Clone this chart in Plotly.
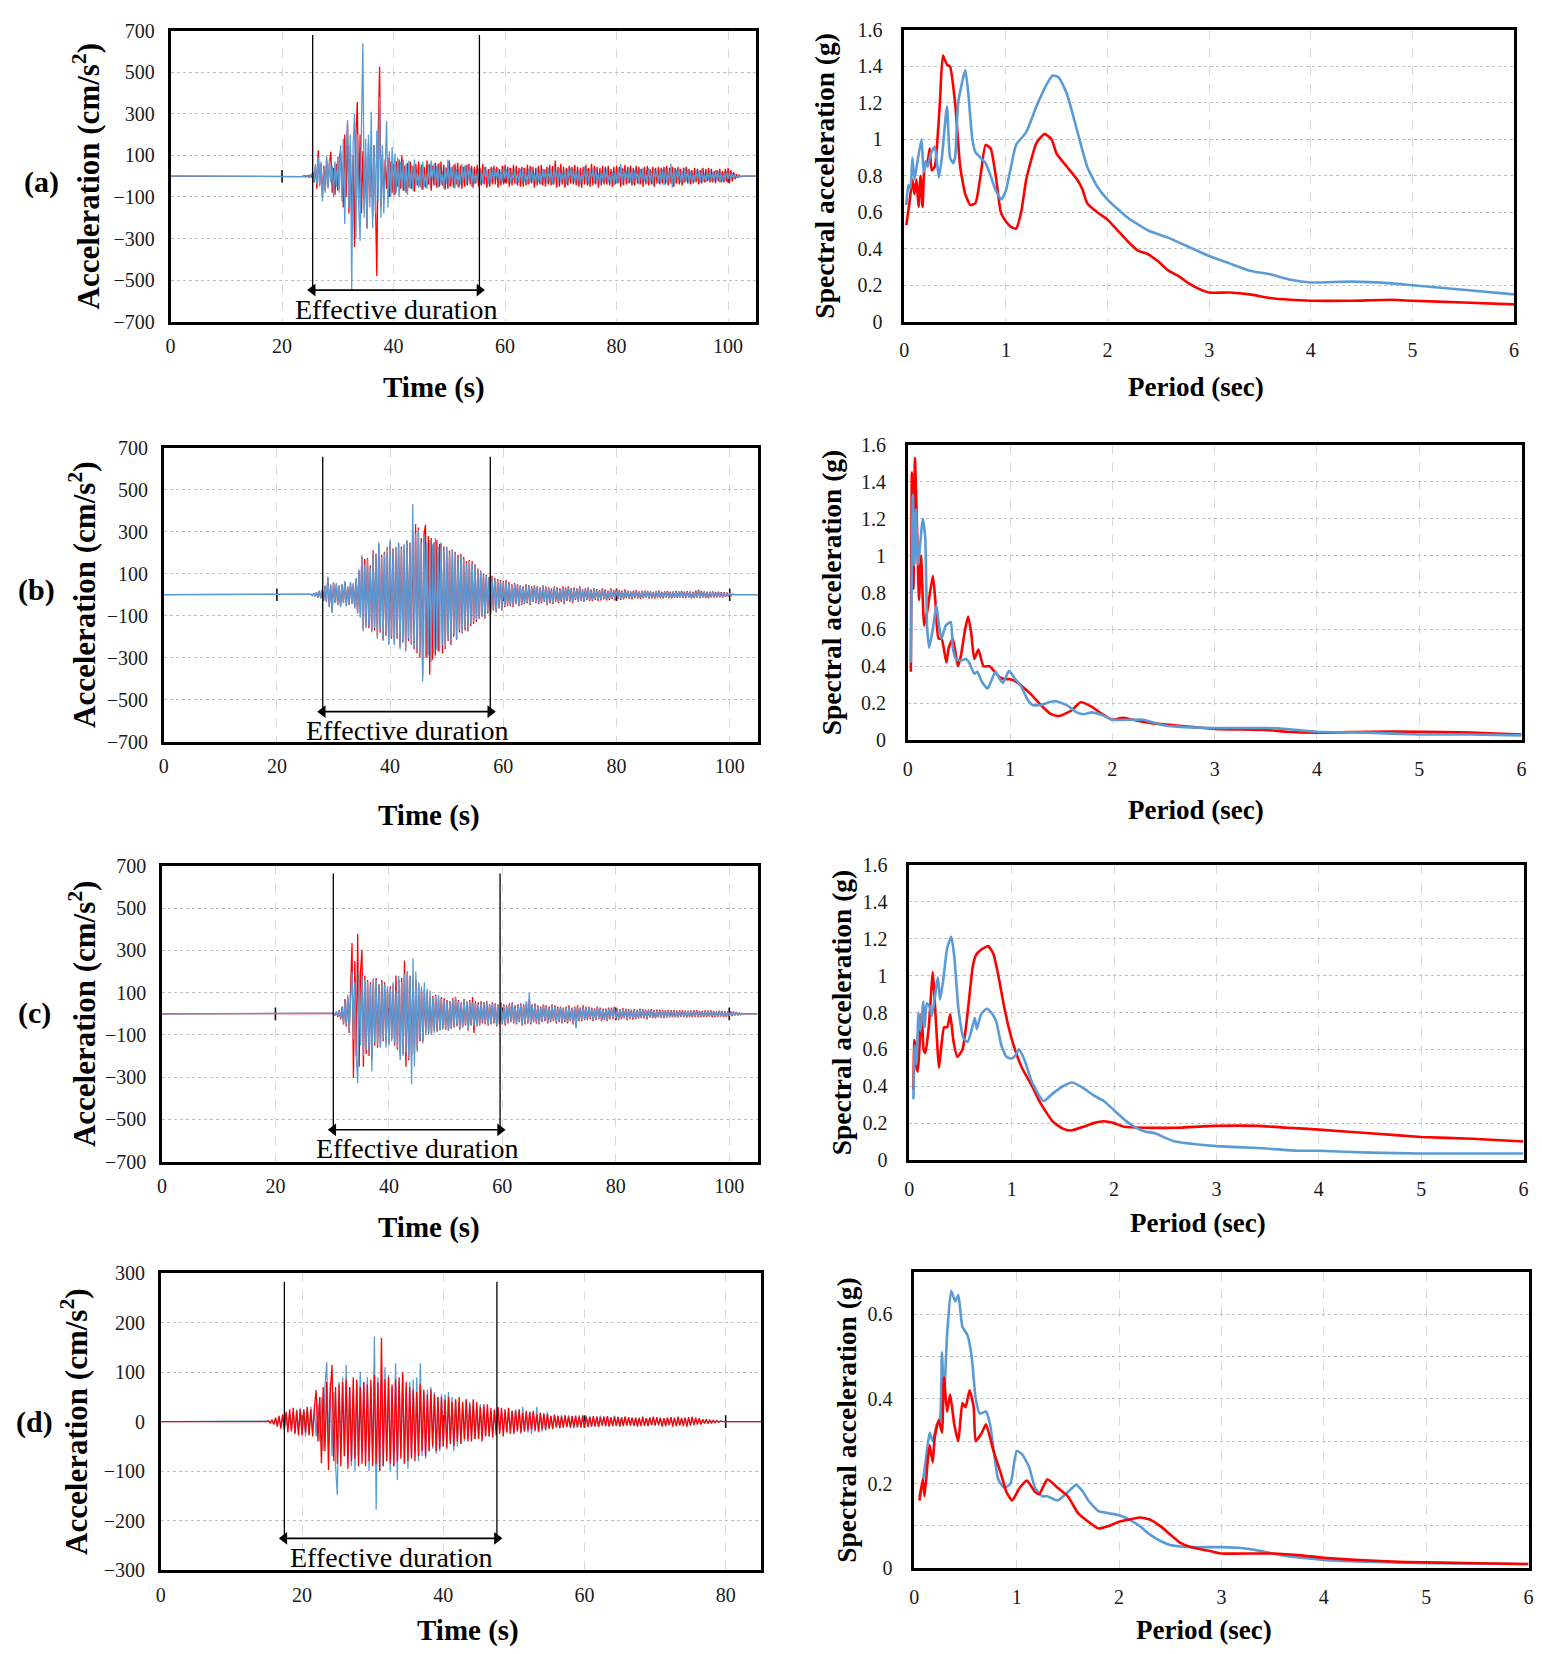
import plotly.graph_objects as go

# The page body has an 8 px margin in the browser; the figure is sized and placed to fit the window.
PAGE_W, PAGE_H = 1542, 1654
OFF = 8
W, H = PAGE_W - 2 * OFF, PAGE_H - 2 * OFF
FONT = "Liberation Serif, Times New Roman, serif"
RED = "#FF0000"
BLUE = "#5B9BD5"

PANEL_LABELS = ["(a)", "(b)", "(c)", "(d)"]

# ---------------- time histories (cm/s^2), sampled every DT seconds from onset ----------------
DT = 0.25
ONSET = [23.0, 26.0, 30.0, 15.0]
T_END = [105, 105, 105, 85]

A_BLUE = [0, 1, -2, 2, -3, 3, -2, 4, -5, 6, 15, -25, 60, -40, 90, -50, 70, -120, 40, -80,
          100, -60, 80, -30, 50, -100, 70, -50, 95, -80, 150, -120, 180, -230, 120, 270, -150, 200, -545, 150,
          300, -300, 200, -150, -310, 250, 640, -200, 180, -250, 200, -150, 310, -250, 150, -180, 220, -120, 380, -200,
          150, -180, 100, 266, -150, 120, -100, 140, -90, 110, -80, 90, -100, 70, -60, 80, -70, 60, -90, 75,
          -60, 50, -70, 80, -45, 20, -55, 40, -65, 70, -50, 15, -60, 55, -40, 75, -10, 60, -45, 50,
          -55, 65, -40, 10, -60, 45, -35, 80, -50, 40, -15, 55, -60, 35, -50, 20, -40, 60, -35, 50,
          -45, 55, -10, 40, -50, 35, -40, 15, -25, 35, -40, 30, -35, 45, -10, 25, -40, 35, -30, 40,
          -25, 35, -10, 40, -35, 25, -30, 45, -15, 35, -25, 40, -35, 10, -20, 35, -40, 25, -30, 35,
          -35, 40, -25, 10, -40, 35, -30, 45, -25, 15, -35, 40, -30, 25, -40, 35, -10, 30, -35, 40,
          -30, 35, -40, 45, -10, 25, -35, 40, -30, 15, -25, 30, -40, 35, -15, 40, -25, 35, -30, 25,
          -35, 30, -40, 15, -25, 45, -30, 35, -40, 25, -10, 35, -35, 40, -25, 15, -35, 25, -30, 40,
          -25, 35, -30, 10, -35, 25, -45, 30, -35, 40, -30, 60, -40, 35, -15, 25, -35, 40, -30, 35,
          -40, 30, -15, 25, -40, 35, -30, 40, -25, 10, -35, 40, -30, 25, -40, 35, -10, 25, -35, 30,
          -30, 35, -45, 40, -30, 15, -25, 60, -55, 40, -35, 30, -10, 35, -30, 25, -35, 40, -25, 30,
          -35, 25, -30, 10, -25, 30, -20, 25, -30, 35, -25, 10, -30, 25, -20, 30, -25, 20, -25, 30,
          -20, 25, -30, 20, -25, 15, -20, 25, -15, 20, -18, 15, -12, 10, -8, 5, -3, 2, 0, 0]
A_RED = [0, -1, 1, -2, 2, -3, 3, -4, 5, -6, 20, -30, 50, -60, 125, -40, 60, -100, 50, -70,
         80, -50, 60, 117, -80, 40, -90, 60, -70, 90, 120, -60, -150, 200, -100, 250, -180, 150, -200, 100,
         -340, 200, 357, -150, 200, -180, 120, -160, 100, -252, 160, -100, 120, -200, 150, -120, -480, 200, 526, -150,
         100, -120, 80, -60, 90, -100, 70, -80, 60, -90, 70, -50, 80, -60, 101, -70, 50, -80, 65, -55,
         70, -60, 50, -75, 60, -45, 70, -50, 55, -65, 45, -55, 75, -40, 60, -70, 50, -45, 65, -55,
         60, -50, 70, -45, 55, -65, 40, -60, 75, -50, 45, -55, 60, -40, 65, -55, 50, -60, 45, -50,
         55, -45, 60, -40, 50, -55, 45, -35, 55, -50, 40, -45, 60, -40, 45, -55, 35, -50, 45, -40,
         50, -40, 45, -55, 35, -45, 50, -40, 55, -35, 45, -50, 40, -45, 55, -35, 50, -45, 40, -50,
         45, -50, 40, -45, 55, -40, 50, -35, 45, -55, 40, -45, 50, -40, 55, -45, 35, -50, 45, -40,
         55, -45, 50, -40, 75, -55, 45, -50, 60, -40, 45, -55, 40, -45, 50, -35, 45, -40, 55, -45,
         45, -50, 40, -55, 45, -40, 55, -45, 40, -50, 60, -45, 50, -40, 45, -55, 40, -45, 50, -40,
         45, -40, 50, -45, 35, -50, 45, -40, 50, -35, 45, -50, 40, -45, 55, -40, 45, -35, 50, -45,
         40, -45, 50, -35, 45, -40, 35, -50, 45, -40, 50, -45, 35, -40, 45, -50, 40, -35, 45, -40,
         40, -35, 45, -40, 50, -45, 40, -35, 45, -50, 40, -35, 45, -40, 35, -45, 40, -30, 45, -35,
         35, -40, 30, -35, 40, -30, 35, -40, 30, -35, 40, -30, 35, -25, 40, -30, 35, -30, 25, -35,
         30, -25, 35, -30, 25, -30, 35, -25, 40, -35, 30, -25, 20, -15, 10, -8, 5, -3, 0, 0]

B_BLUE = [3, -5, 8, -10, 12, -15, 20, -18, 25, -30, 45, -35, 87, -60, 50, -87, 60, -40, 55, -50,
          45, -60, 50, -40, 65, -55, 40, -50, 60, -45, 55, -65, 80, -90, 120, -110, 190, -175, 140, -160,
          170, -150, 130, -180, 200, -160, 190, -210, 250, -170, 180, -220, 200, -190, 230, -240, 262, -200, 210, -240,
          230, -200, 250, -260, 220, -230, 240, -270, 260, -210, 250, -240, 432, -250, 290, -270, 310, -280, 250, -413,
          280, -300, 250, -290, 260, -320, 240, -280, 270, -260, 230, -270, 250, -240, 220, -250, 230, -210, 200, -230,
          210, -190, 200, -210, 180, -170, 190, -180, 170, -160, 150, -170, 160, -140, 150, -130, 140, -120, 120, -110,
          110, -100, 95, -110, 90, -85, 80, -90, 85, -70, 75, -80, 70, -60, 65, -70, 60, -55, 65, -50,
          55, -50, 45, -55, 50, -40, 45, -50, 40, -45, 35, -40, 45, -35, 40, -45, 35, -30, 40, -35,
          35, -40, 30, -35, 40, -30, 35, -45, 30, -35, 25, -40, 35, -30, 30, -35, 25, -30, 35, -40,
          30, -25, 35, -30, 25, -35, 30, -20, 25, -30, 35, -25, 20, -30, 25, -20, 30, -25, 20, -25,
          25, -20, 22, -25, 18, -22, 25, -18, 20, -22, 15, -20, 25, -15, 18, -22, 20, -15, 18, -20,
          15, -18, 20, -12, 16, -15, 12, -18, 15, -12, 18, -14, 12, -16, 14, -12, 16, -10, 14, -15,
          12, -14, 10, -15, 13, -10, 15, -12, 10, -14, 12, -10, 14, -12, 10, -13, 12, -10, 14, -11,
          12, -10, 14, -12, 10, -11, 13, -10, 12, -14, 10, -12, 15, -10, 20, -12, 14, -10, 12, -11,
          10, -12, 11, -9, 12, -10, 9, -8, 11, -9, 8, -10, 9, -7, 8, -6, 5, -4, 2, 0]
B_RED = [2, -4, 7, -9, 11, -14, 18, -16, 22, -28, 40, -32, 80, -55, 45, -80, 55, -38, 50, -48,
         42, -55, 48, -38, 60, -52, 38, -48, 55, -42, 50, -60, 75, -85, 115, -105, 180, -165, 170, -150,
         175, -160, 140, -175, 210, -170, 195, -200, 240, -180, 190, -215, 205, -195, 225, -235, 250, -210, 220, -230,
         225, -210, 245, -250, 230, -225, 235, -260, 255, -220, 245, -235, 300, -260, 335, -280, 320, -300, 270, -390,
         290, 333, -300, 280, -381, 270, -310, 250, -290, 260, -270, 240, 240, -280, 230, -260, 225, -220, 210, -240,
         215, -200, 205, -215, 190, -180, 195, -185, 180, -170, 160, -175, 165, -150, 160, -140, 145, -130, 125, -115,
         115, -105, 100, -115, 95, -90, 85, -95, 90, -75, 80, -85, 75, -65, 70, -75, 65, -60, 70, -55,
         60, -55, 50, -60, 55, -45, 50, -55, 45, -50, 40, -45, 50, -40, 45, -50, 40, -35, 45, -40,
         40, -45, 35, -40, 45, -35, 40, -50, 35, -40, 30, -45, 40, -35, 35, -40, 30, -35, 40, -45,
         35, -30, 40, -35, 30, -40, 35, -25, 30, -35, 40, -30, 25, -35, 30, -25, 35, -30, 25, -30,
         30, -25, 27, -30, 22, -27, 30, -22, 25, -27, 20, -25, 30, -20, 22, -27, 25, -20, 22, -25,
         20, -22, 25, -16, 20, -19, 16, -22, 19, -16, 22, -18, 16, -20, 18, -16, 20, -14, 18, -19,
         16, -18, 14, -19, 17, -14, 19, -16, 14, -18, 16, -14, 18, -16, 14, -17, 16, -14, 18, -15,
         16, -14, 18, -16, 14, -15, 17, -14, 16, -18, 14, -16, 19, -14, 24, -16, 18, -14, 16, -15,
         14, -16, 15, -13, 16, -14, 13, -12, 15, -13, 12, -14, 12, -10, 11, -9, 7, -5, 3, 0]

C_BLUE = [0, 3, -5, 8, -12, 15, -20, 30, -45, 60, -50, 90, -80, 95, 200, -120, 150, -200, -328, 200,
          -150, 180, -200, 160, -170, 150, -190, 140, -273, 170, -140, 160, -150, 130, -160, 150, -120, 140, -160, 130,
          -150, 120, -130, 150, -140, 110, -160, 180, -220, 150, -200, 190, -180, 200, -210, 180, -333, 263, -250, 200,
          -180, 150, -120, 130, -140, 150, -100, 120, -90, 110, -100, 80, -90, 85, -70, 90, -80, 70, -75, 65,
          -70, 60, -80, 55, -65, 70, -60, 75, -55, 60, -70, 50, -60, 65, -50, 55, -75, 60, -50, 55,
          -60, 50, -55, 45, -50, 55, -40, 50, -45, 55, -50, 40, -45, 50, -40, 45, -55, 40, -45, 50,
          -45, 40, -50, 35, -40, 45, -35, 50, -40, 35, -45, 40, -35, 45, -50, 40, -45, 60, -40, 98,
          -45, 40, -35, 45, -40, 35, -45, 30, -35, 40, -30, 35, -40, 30, -35, 40, -30, 35, -40, 30,
          -35, 30, -40, 25, -35, 30, -40, 35, -30, 25, -45, 30, -68, 35, -30, 25, -30, 35, -25, 30,
          -25, 30, -20, 25, -30, 20, -25, 30, -20, 25, -30, 20, -25, 20, -30, 25, -20, 25, -20, 30,
          -22, 20, -25, 18, -20, 22, -18, 20, -25, 18, -20, 15, -22, 18, -20, 16, -18, 20, -15, 18,
          -18, 15, -20, 16, -14, 18, -16, 14, -18, 15, -13, 16, -15, 14, -16, 12, -14, 15, -13, 14,
          -12, 14, -13, 11, -14, 12, -10, 13, -12, 11, -14, 10, -12, 13, -11, 12, -10, 14, -12, 10,
          -11, 10, -12, 13, -10, 11, -9, 12, -11, 10, -12, 8, -10, 11, -9, 10, -12, 9, -10, 8,
          -8, 9, -7, 8, -6, 6, -5, 4, -3, 2, -1, 0]
C_RED = [0, 2, -6, 10, -15, 18, -25, 35, -50, 70, -60, 80, -90, 100, 335, -304, 250, -200, 379, -250,
         200, 303, -250, 180, -190, 160, -200, 150, -220, 160, -150, 170, -160, 140, -150, 160, -130, 150, -140, 120,
         -140, 130, -120, 140, -150, 181, -170, 160, -200, 170, -190, 252, -250, 200, -220, 180, -200, 170, -190, 160,
         -170, 140, -130, 120, -130, 110, -90, 100, -95, 80, -90, 85, -80, 90, -85, 70, -75, 80, -70, 75,
         -75, 65, -80, 60, -70, 75, -65, 80, -60, 65, -75, 55, -65, 70, -55, 60, -80, 65, -55, 80,
         -90, 60, -60, 55, -55, 60, -45, 55, -50, 60, -55, 45, -50, 55, -45, 50, -60, 45, -50, 55,
         -50, 45, -55, 40, -45, 50, -40, 55, -45, 40, -50, 45, -40, 50, -55, 45, -50, 55, -45, 70,
         -50, 45, -40, 50, -45, 40, -50, 35, -40, 45, -35, 40, -45, 35, -40, 45, -35, 40, -45, 35,
         -40, 35, -45, 30, -40, 35, -45, 40, -35, 30, -50, 35, -60, 40, -35, 30, -35, 40, -30, 35,
         -30, 35, -25, 30, -35, 25, -30, 35, -25, 30, -35, 25, -30, 25, -35, 30, -25, 30, -25, 35,
         -27, 25, -30, 22, -25, 27, -22, 25, -30, 22, -25, 20, -27, 22, -25, 20, -22, 25, -20, 22,
         -22, 20, -25, 20, -18, 22, -20, 18, -22, 20, -17, 20, -19, 18, -20, 16, -18, 19, -17, 18,
         -16, 18, -17, 15, -18, 16, -14, 17, -16, 15, -18, 14, -16, 17, -15, 16, -14, 18, -16, 14,
         -15, 14, -16, 17, -14, 15, -13, 16, -15, 14, -16, 12, -14, 15, -13, 14, -16, 13, -14, 12,
         -12, 13, -10, 11, -8, 8, -6, 5, -4, 3, -1, 0]

D_BLUE = [0, 1, -2, 3, -4, 5, -6, 8, -10, 12, -10, 15, -12, 18, -15, 20, -22, 25, -20, 28,
          -25, 22, -30, 28, -25, 30, -20, 25, -30, 35, -40, 50, -60, 70, 120, -50, 80, -70, 60, -90,
          -148, 80, -60, 90, -70, 115, -80, 70, -90, 60, -100, 80, -70, 101, -60, 80, -70, 90, -100, 70,
          -80, 172, -178, 90, -100, 85, -90, 110, -80, 95, -100, 70, -90, 118, -118, 80, -70, 95, -85, 70,
          -95, 80, -70, 85, -60, 90, -80, 118, -70, 60, -75, 65, -60, 70, -55, 60, -65, 50, -60, 55,
          -50, 55, -45, 60, -40, 50, -60, 45, -50, 40, -45, 35, -40, 45, -35, 40, -30, 40, -35, 30,
          -30, 35, -25, 30, -28, 25, -30, 20, -25, 22, -20, 25, -18, 22, -20, 18, -22, 20, -18, 22,
          -20, 25, -18, 22, -25, 30, -20, 18, -22, 20, -25, 18, -20, 30, -22, 18, -20, 15, -18, 20,
          -15, 12, -14, 15, -12, 10, -13, 14, -11, 12, -10, 13, -12, 11, -14, 10, -12, 13, -11, 14,
          -10, 12, -9, 11, -10, 8, -11, 10, -9, 12, -8, 10, -9, 11, -10, 9, -8, 12, -9, 10,
          -8, 9, -7, 10, -8, 7, -9, 8, -7, 9, -8, 6, -7, 8, -9, 7, -6, 8, -7, 6,
          -7, 8, -6, 7, -8, 6, -7, 8, -6, 7, -5, 6, -7, 5, -6, 7, -5, 6, -6, 5,
          -6, 5, -5, 6, -4, 5, -5, 4, -3, 4, -3, 3, -2, 3, -2, 2, -1, 1, 0, 0,
          0, 0, 0, 0]
D_RED = [0, 2, -3, 4, -6, 8, -10, 12, -14, 15, -18, 20, -22, 25, -20, 28, -25, 22, -28, 25,
         -28, 25, -22, 30, -28, 25, -30, 28, 64, -40, 50, -84, 70, -60, 80, -98, 60, 115, -80, 70,
         -85, 75, -90, 80, -70, 85, -95, 70, -80, 90, -75, 85, -90, 70, -85, 80, -90, 75, -80, 85,
         -90, 95, -85, 80, -100, 169, -90, 85, -80, 90, -85, 75, -90, 85, -80, 90, -75, 100, -85, 80,
         -80, 70, -75, 65, -80, 60, -70, 75, -60, 65, -70, 55, -60, 65, -50, 55, -60, 50, -55, 50,
         -50, 45, -55, 50, -45, 40, -50, 45, -40, 50, -45, 40, -35, 45, -40, 35, -40, 45, -35, 40,
         -35, 30, -40, 35, -30, 35, -30, 28, -32, 25, -28, 30, -25, 28, -30, 25, -22, 28, -25, 22,
         -25, 22, -20, 25, -22, 18, -20, 22, -18, 20, -16, 22, -18, 15, -20, 18, -15, 17, -16, 15,
         -14, 12, -15, 13, -11, 12, -13, 10, -12, 13, -11, 10, -12, 11, -10, 12, -11, 10, -12, 11,
         -12, 10, -11, 9, -10, 11, -9, 10, -11, 9, -8, 10, -9, 11, -10, 8, -9, 10, -8, 9,
         -10, 8, -9, 10, -8, 9, -7, 8, -9, 7, -10, 8, -9, 10, -8, 7, -9, 8, -7, 10,
         -8, 9, -7, 8, -10, 7, -9, 8, -7, 9, -10, 8, -9, 10, -8, 7, -9, 8, -10, 9,
         -8, 10, -7, 8, -6, 7, -6, 5, -4, 5, -4, 3, -3, 2, -2, 2, -1, 1, 0, 0,
         0, 0, 0, 0]

# effective duration (s) and the extent of its marker lines (cm/s^2)
EFF_START = [25.5, 28.1, 30.2, 17.5]
EFF_END = [55.4, 57.7, 59.6, 47.6]
EFF_TOP = [679, 657, 665, 283]
EFF_BOT = [-548, -557, -549, -236]

# ---------------- response spectra: (period s, Sa g) ----------------
SA_A_RED = [(0.02, 0.53), (0.05, 0.65), (0.08, 0.78), (0.10, 0.70), (0.12, 0.78), (0.14, 0.63),
            (0.16, 0.80), (0.18, 0.63), (0.20, 0.85), (0.23, 0.88), (0.25, 0.95), (0.27, 0.83),
            (0.30, 0.85), (0.32, 0.95), (0.35, 1.20), (0.38, 1.46), (0.42, 1.41), (0.45, 1.40),
            (0.50, 1.20), (0.55, 0.85), (0.60, 0.70), (0.65, 0.64), (0.70, 0.65), (0.75, 0.80),
            (0.80, 0.97), (0.85, 0.95), (0.90, 0.80), (0.95, 0.60), (1.00, 0.55), (1.05, 0.52),
            (1.10, 0.51), (1.15, 0.60), (1.20, 0.78), (1.30, 0.98), (1.38, 1.03), (1.45, 1.00),
            (1.50, 0.92), (1.60, 0.85), (1.70, 0.78), (1.75, 0.73), (1.80, 0.65), (1.90, 0.60),
            (2.00, 0.56), (2.10, 0.50), (2.20, 0.44), (2.30, 0.39), (2.40, 0.37), (2.50, 0.33),
            (2.60, 0.28), (2.70, 0.25), (2.80, 0.21), (2.90, 0.18), (3.00, 0.16), (3.20, 0.16),
            (3.40, 0.15), (3.60, 0.13), (3.80, 0.12), (4.00, 0.115), (4.40, 0.115), (4.80, 0.12),
            (5.00, 0.115), (5.50, 0.105), (6.00, 0.095)]
SA_A_BLUE = [(0.02, 0.64), (0.04, 0.75), (0.06, 0.73), (0.08, 0.90), (0.10, 0.78), (0.13, 0.88),
             (0.17, 1.00), (0.19, 0.82), (0.21, 0.88), (0.23, 0.85), (0.26, 0.92), (0.30, 0.96),
             (0.34, 0.79), (0.37, 0.90), (0.42, 1.18), (0.45, 0.90), (0.48, 0.87), (0.50, 0.90),
             (0.53, 1.20), (0.60, 1.38), (0.63, 1.25), (0.67, 1.00), (0.70, 0.93), (0.75, 0.90),
             (0.80, 0.87), (0.85, 0.80), (0.90, 0.72), (0.955, 0.67), (1.00, 0.72), (1.05, 0.85),
             (1.10, 0.97), (1.20, 1.04), (1.30, 1.18), (1.40, 1.30), (1.46, 1.35), (1.52, 1.34),
             (1.60, 1.25), (1.70, 1.05), (1.80, 0.85), (1.90, 0.74), (2.00, 0.67), (2.20, 0.57),
             (2.40, 0.50), (2.60, 0.46), (2.80, 0.41), (3.00, 0.36), (3.20, 0.32), (3.40, 0.28),
             (3.60, 0.26), (3.80, 0.23), (4.00, 0.215), (4.40, 0.22), (4.80, 0.21), (5.00, 0.20),
             (5.50, 0.175), (6.00, 0.15)]
SA_B_RED = [(0.03, 0.37), (0.04, 1.45), (0.055, 0.82), (0.07, 1.53), (0.09, 1.15), (0.11, 0.76),
            (0.13, 1.00), (0.16, 0.62), (0.19, 0.70), (0.245, 0.89), (0.27, 0.75), (0.30, 0.55),
            (0.33, 0.55), (0.377, 0.42), (0.40, 0.50), (0.44, 0.55), (0.49, 0.40), (0.52, 0.46),
            (0.56, 0.60), (0.59, 0.67), (0.62, 0.58), (0.65, 0.44), (0.69, 0.49), (0.74, 0.40),
            (0.80, 0.40), (0.85, 0.37), (0.90, 0.34), (0.95, 0.33), (1.00, 0.33), (1.05, 0.32),
            (1.10, 0.30), (1.20, 0.25), (1.30, 0.19), (1.40, 0.14), (1.48, 0.13), (1.60, 0.16),
            (1.69, 0.205), (1.80, 0.18), (1.90, 0.14), (2.00, 0.11), (2.10, 0.12), (2.20, 0.11),
            (2.40, 0.09), (2.60, 0.08), (2.80, 0.07), (3.00, 0.06), (3.50, 0.055), (3.70, 0.045),
            (4.00, 0.04), (4.50, 0.045), (5.00, 0.045), (5.50, 0.04), (6.00, 0.03)]
SA_B_BLUE = [(0.03, 0.42), (0.05, 1.33), (0.065, 0.95), (0.08, 1.25), (0.10, 0.95), (0.147, 1.20),
             (0.17, 1.10), (0.19, 0.60), (0.21, 0.50), (0.25, 0.62), (0.28, 0.73), (0.31, 0.60),
             (0.33, 0.55), (0.37, 0.62), (0.42, 0.64), (0.44, 0.50), (0.47, 0.44), (0.52, 0.43),
             (0.57, 0.44), (0.60, 0.42), (0.65, 0.36), (0.68, 0.37), (0.72, 0.32), (0.78, 0.28),
             (0.857, 0.37), (0.90, 0.33), (0.93, 0.31), (0.99, 0.375), (1.05, 0.33), (1.10, 0.30),
             (1.17, 0.22), (1.22, 0.19), (1.30, 0.19), (1.38, 0.205), (1.45, 0.21), (1.55, 0.19),
             (1.65, 0.15), (1.72, 0.14), (1.80, 0.15), (1.90, 0.135), (2.00, 0.11), (2.20, 0.11),
             (2.30, 0.11), (2.50, 0.08), (2.70, 0.07), (3.00, 0.065), (3.50, 0.065), (3.70, 0.06),
             (4.00, 0.045), (4.50, 0.04), (5.00, 0.03), (5.50, 0.03), (6.00, 0.025)]
SA_C_RED = [(0.04, 0.38), (0.05, 0.65), (0.07, 0.50), (0.083, 0.48), (0.10, 0.62), (0.12, 0.80),
            (0.14, 0.60), (0.157, 0.58), (0.19, 0.72), (0.23, 1.02), (0.25, 0.85), (0.29, 0.50),
            (0.31, 0.60), (0.34, 0.72), (0.37, 0.72), (0.40, 0.79), (0.43, 0.65), (0.47, 0.56),
            (0.52, 0.60), (0.57, 0.80), (0.62, 1.05), (0.65, 1.11), (0.70, 1.14), (0.77, 1.16),
            (0.82, 1.12), (0.87, 1.00), (0.92, 0.85), (0.97, 0.72), (1.02, 0.62), (1.10, 0.50),
            (1.20, 0.40), (1.28, 0.31), (1.40, 0.21), (1.50, 0.17), (1.58, 0.16), (1.70, 0.18),
            (1.80, 0.20), (1.90, 0.21), (2.00, 0.20), (2.10, 0.18), (2.30, 0.175), (2.60, 0.175),
            (3.00, 0.185), (3.40, 0.185), (3.70, 0.175), (4.00, 0.165), (4.50, 0.145), (5.00, 0.125),
            (5.50, 0.115), (6.00, 0.10)]
SA_C_BLUE = [(0.04, 0.33), (0.055, 0.62), (0.07, 0.52), (0.09, 0.80), (0.11, 0.70), (0.137, 0.86),
             (0.15, 0.72), (0.17, 0.85), (0.20, 0.83), (0.22, 0.78), (0.28, 0.99), (0.30, 0.87),
             (0.33, 0.97), (0.37, 1.15), (0.41, 1.21), (0.44, 1.10), (0.48, 0.82), (0.53, 0.66),
             (0.57, 0.64), (0.62, 0.73), (0.64, 0.77), (0.66, 0.71), (0.70, 0.79), (0.755, 0.82),
             (0.80, 0.80), (0.85, 0.75), (0.90, 0.62), (0.95, 0.56), (1.00, 0.55), (1.04, 0.57),
             (1.07, 0.60), (1.12, 0.55), (1.20, 0.42), (1.31, 0.32), (1.40, 0.36), (1.50, 0.40),
             (1.59, 0.42), (1.70, 0.39), (1.80, 0.35), (1.90, 0.32), (2.00, 0.27), (2.10, 0.22),
             (2.20, 0.18), (2.30, 0.155), (2.40, 0.145), (2.50, 0.12), (2.60, 0.10), (2.80, 0.085),
             (3.00, 0.075), (3.40, 0.065), (3.80, 0.05), (4.00, 0.05), (4.50, 0.04), (5.00, 0.035),
             (6.00, 0.035)]
SA_D_RED = [(0.05, 0.16), (0.083, 0.21), (0.10, 0.17), (0.13, 0.25), (0.15, 0.29), (0.18, 0.25),
            (0.20, 0.31), (0.24, 0.35), (0.27, 0.32), (0.29, 0.45), (0.32, 0.37), (0.35, 0.41),
            (0.39, 0.34), (0.43, 0.30), (0.47, 0.39), (0.50, 0.38), (0.54, 0.42), (0.58, 0.38),
            (0.60, 0.30), (0.66, 0.32), (0.70, 0.34), (0.77, 0.28), (0.85, 0.22), (0.90, 0.18),
            (0.955, 0.16), (1.03, 0.19), (1.10, 0.207), (1.18, 0.18), (1.22, 0.175), (1.30, 0.21),
            (1.40, 0.19), (1.50, 0.17), (1.60, 0.13), (1.70, 0.11), (1.80, 0.094), (1.90, 0.10),
            (2.00, 0.11), (2.10, 0.115), (2.20, 0.12), (2.30, 0.115), (2.40, 0.10), (2.50, 0.08),
            (2.60, 0.06), (2.70, 0.05), (2.90, 0.04), (3.00, 0.035), (3.50, 0.035), (3.80, 0.03),
            (4.00, 0.025), (4.30, 0.02), (4.80, 0.015), (5.50, 0.012), (6.00, 0.01)]
SA_D_BLUE = [(0.05, 0.17), (0.08, 0.20), (0.12, 0.27), (0.15, 0.32), (0.18, 0.30), (0.22, 0.34),
             (0.25, 0.35), (0.27, 0.51), (0.29, 0.40), (0.32, 0.55), (0.36, 0.655), (0.40, 0.63),
             (0.43, 0.645), (0.47, 0.57), (0.52, 0.55), (0.56, 0.50), (0.60, 0.40), (0.64, 0.365),
             (0.70, 0.37), (0.74, 0.34), (0.78, 0.27), (0.82, 0.21), (0.88, 0.19), (0.94, 0.20),
             (1.00, 0.277), (1.05, 0.27), (1.12, 0.24), (1.18, 0.19), (1.25, 0.17), (1.30, 0.17),
             (1.40, 0.16), (1.50, 0.18), (1.58, 0.197), (1.65, 0.18), (1.70, 0.16), (1.80, 0.135),
             (1.90, 0.13), (2.00, 0.125), (2.10, 0.115), (2.20, 0.10), (2.30, 0.08), (2.40, 0.065),
             (2.50, 0.055), (2.70, 0.05), (2.90, 0.05), (3.00, 0.05), (3.20, 0.048), (3.40, 0.04),
             (3.60, 0.03), (4.00, 0.02), (4.50, 0.015), (5.00, 0.012), (6.00, 0.01)]

# ---------------- axis ticks ----------------
ACC_TICKS_BIG = [-700, -500, -300, -100, 100, 300, 500, 700]
ACC_TICKS_D = [-300, -200, -100, 0, 100, 200, 300]
TIME_TICKS = [0, 20, 40, 60, 80, 100]
TIME_TICKS_D = [0, 20, 40, 60, 80]
SA_TICKS = [0, 0.2, 0.4, 0.6, 0.8, 1.0, 1.2, 1.4, 1.6]
SA_TICKS_D = [0, 0.2, 0.4, 0.6]
SA_MINOR_D = [0.1, 0.3, 0.5]
SA_MAX_D = 0.7
PERIOD_TICKS = [0, 1, 2, 3, 4, 5, 6]

TIME_DATA = [(A_RED, A_BLUE), (B_RED, B_BLUE), (C_RED, C_BLUE), (D_RED, D_BLUE)]
SPEC_DATA = [(SA_A_RED, SA_A_BLUE), (SA_B_RED, SA_B_BLUE), (SA_C_RED, SA_C_BLUE), (SA_D_RED, SA_D_BLUE)]

# ---------------- layout geometry (pixels of the 1542x1654 window) ----------------
TIME_BOX = [(170.5, 756, 30.7, 321.7), (163.7, 758, 447.7, 741.7),
            (162, 757.6, 866, 1161.7), (160.8, 761, 1273.3, 1570)]
SPEC_BOX = [(904.3, 1514, 30, 321.7), (907.8, 1521.5, 445, 740),
            (909.3, 1523.5, 865, 1160), (914.3, 1528.5, 1271.7, 1568.3)]
LABEL_POS = [(41, 182), (36.5, 590), (34, 1013), (34, 1422)]
TIME_YT_STANDOFF = [5, 2, 1, 7]
SPEC_YT_STANDOFF = [15, 12, 3, 3]
TIME_XT = [(433.6, 387), (428.6, 815), (428.7, 1227), (467.7, 1630)]
SPEC_XT = [(1196, 387), (1196, 810), (1198, 1223), (1203.5, 1630)]


def fx(p):
    return (p - OFF) / W


def fy(p):
    return 1 - (p - OFF) / H


def dom_x(box):
    return [fx(box[0]), fx(box[1])]


def dom_y(box):
    return [fy(box[3]), fy(box[2])]


def fmt(v):
    return ("%g" % v).replace("-", "\u2212")


def base_axis(ticklen):
    return dict(showline=True, linecolor="black", linewidth=2.5, mirror=True,
                showgrid=True, zeroline=False, ticks="outside", ticklen=ticklen,
                tickcolor="rgba(0,0,0,0)", automargin=False,
                tickfont=dict(family=FONT, size=20, color="#1a1a1a"))


fig = go.Figure()
layout = dict(width=W, height=H, margin=dict(l=0, r=0, t=0, b=0),
              paper_bgcolor="white", plot_bgcolor="white", showlegend=False)
annotations = []

for k in range(4):
    # ---------- time-history panel ----------
    ti = 2 * k + 1
    xs, ys = ("x" if ti == 1 else "x%d" % ti), ("y" if ti == 1 else "y%d" % ti)
    xa = base_axis(5)
    ya = base_axis(9)
    tt = TIME_TICKS_D if k == 3 else TIME_TICKS
    at = ACC_TICKS_D if k == 3 else ACC_TICKS_BIG
    xa.update(domain=dom_x(TIME_BOX[k]), range=[0, T_END[k]], tickvals=tt,
              ticktext=[fmt(v) for v in tt], gridcolor="#D9D9D9", griddash="dash",
              gridwidth=1, anchor=ys)
    ya.update(domain=dom_y(TIME_BOX[k]), range=[at[0], at[-1]], tickvals=at,
              ticktext=[fmt(v) for v in at], gridcolor="#BFBFBF", griddash="dot",
              gridwidth=1.2, anchor=xs,
              title=dict(text="<b>Acceleration (cm/s<sup>2</sup>)</b>", standoff=TIME_YT_STANDOFF[k],
                         font=dict(family=FONT, size=31, color="black")))
    layout["xaxis" if ti == 1 else "xaxis%d" % ti] = xa
    layout["yaxis" if ti == 1 else "yaxis%d" % ti] = ya

    # small tick marks of the horizontal axis crossing at zero
    fig.add_trace(go.Scatter(x=tt[1:], y=[0] * (len(tt) - 1), mode="markers", xaxis=xs, yaxis=ys,
                             marker=dict(symbol="line-ns", size=9, line=dict(width=1.5, color="black")),
                             hoverinfo="skip"))
    red_vals, blue_vals = TIME_DATA[k]
    order = [(red_vals, RED), (blue_vals, BLUE)] if k < 3 else [(blue_vals, BLUE), (red_vals, RED)]
    for vals, col in order:
        t = [0.0] + [ONSET[k] + DT * i for i in range(len(vals))] + [T_END[k]]
        v = [0] + list(vals) + [0]
        fig.add_trace(go.Scatter(x=t, y=v, mode="lines", xaxis=xs, yaxis=ys,
                                 line=dict(color=col, width=1.3)))
    # effective duration marker lines and double arrow
    s, e = EFF_START[k], EFF_END[k]
    fig.add_trace(go.Scatter(x=[s, s, None, e, e], y=[EFF_TOP[k], EFF_BOT[k], None, EFF_TOP[k], EFF_BOT[k]],
                             mode="lines", xaxis=xs, yaxis=ys, line=dict(color="black", width=1.3),
                             hoverinfo="skip"))
    fig.add_trace(go.Scatter(x=[s, e], y=[EFF_BOT[k], EFF_BOT[k]], mode="lines+markers",
                             xaxis=xs, yaxis=ys, line=dict(color="black", width=1.6),
                             marker=dict(symbol=["triangle-left", "triangle-right"], size=11,
                                         color="black"),
                             hoverinfo="skip"))
    annotations.append(dict(x=(s + e) / 2, y=EFF_BOT[k], xref=xs, yref=ys, text="Effective duration",
                            showarrow=False, yanchor="middle", yshift=-19,
                            font=dict(family=FONT, size=28, color="black")))

    # ---------- spectrum panel ----------
    si = 2 * k + 2
    xs2, ys2 = "x%d" % si, "y%d" % si
    xb = base_axis(9)
    yb = base_axis(15)
    sat = SA_TICKS_D if k == 3 else SA_TICKS
    ymax = SA_MAX_D if k == 3 else SA_TICKS[-1]
    xb.update(domain=dom_x(SPEC_BOX[k]), range=[0, 6], tickvals=PERIOD_TICKS,
              ticktext=[fmt(v) for v in PERIOD_TICKS], gridcolor="#D9D9D9", griddash="dash",
              gridwidth=1, anchor=ys2)
    yb.update(domain=dom_y(SPEC_BOX[k]), range=[0, ymax], tickvals=sat,
              ticktext=[fmt(v) for v in sat],
              gridcolor="#BFBFBF", griddash="dot", gridwidth=1.2, anchor=xs2,
              title=dict(text="<b>Spectral acceleration (g)</b>", standoff=SPEC_YT_STANDOFF[k],
                         font=dict(family=FONT, size=27.5, color="black")))
    if k == 3:
        yb["minor"] = dict(tickmode="array", tickvals=SA_MINOR_D, showgrid=True,
                           gridcolor="#BFBFBF", griddash="dot", gridwidth=1.2, ticks="")
    layout["xaxis%d" % si] = xb
    layout["yaxis%d" % si] = yb
    red_sp, blue_sp = SPEC_DATA[k]
    sp_order = [(red_sp, RED), (blue_sp, BLUE)] if k < 3 else [(blue_sp, BLUE), (red_sp, RED)]
    for pairs, col in sp_order:
        fig.add_trace(go.Scatter(x=[p[0] for p in pairs], y=[p[1] for p in pairs], mode="lines",
                                 xaxis=xs2, yaxis=ys2,
                                 line=dict(color=col, width=2.6, shape="spline", smoothing=0.5)))

    # ---------- texts ----------
    lx, ly = LABEL_POS[k]
    annotations.append(dict(x=fx(lx), y=fy(ly), xref="paper", yref="paper",
                            text="<b>%s</b>" % PANEL_LABELS[k],
                            showarrow=False, xanchor="center", yanchor="middle",
                            font=dict(family=FONT, size=30, color="black")))
    px_, py_ = TIME_XT[k]
    annotations.append(dict(x=fx(px_), y=fy(py_), xref="paper", yref="paper",
                            text="<b>Time (s)</b>", showarrow=False, xanchor="center", yanchor="middle",
                            font=dict(family=FONT, size=29, color="black")))
    px_, py_ = SPEC_XT[k]
    annotations.append(dict(x=fx(px_), y=fy(py_), xref="paper", yref="paper",
                            text="<b>Period (sec)</b>", showarrow=False, xanchor="center", yanchor="middle",
                            font=dict(family=FONT, size=27, color="black")))

layout["annotations"] = annotations
fig.update_layout(**layout)
fig.write_html("out.html")
